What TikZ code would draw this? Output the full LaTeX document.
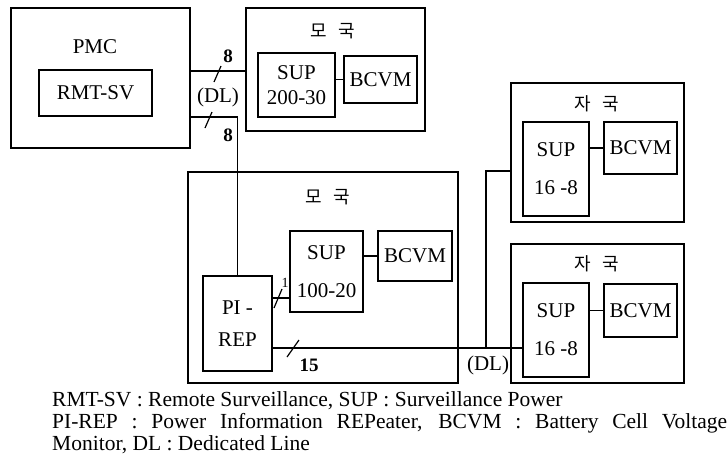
\documentclass[tikz,border=0pt]{standalone}
\usepackage{fontspec}
\setmainfont{Liberation Serif}
\newfontfamily\kofont[WordSpace=2.8]{Noto Sans CJK KR}
\usetikzlibrary{calc}

\begin{document}
\begin{tikzpicture}[
    x=1pt, y=-1pt,
    unit/.style={draw, line width=1.4pt, inner sep=0pt, align=center,
                 font=\fontsize{21}{38}\selectfont},
    wire/.style={draw, line width=1.2pt},
    tick/.style={draw, line width=1.2pt},
    lbl/.style={font=\fontsize{21}{25}\selectfont, inner sep=0pt},
    hangul/.style={font=\kofont\fontsize{18}{20}\selectfont, inner sep=0pt},
    num/.style={font=\bfseries\fontsize{19}{21}\selectfont, inner sep=0pt},
    note/.style={font=\fontsize{21.5}{22}\selectfont, inner sep=0pt, anchor=base west},
  ]
  \useasboundingbox (0,0) rectangle (728,466);

  % ---- PMC
  \node[unit, minimum width=179pt, minimum height=140pt] (pmc) at (100.5,78) {};
  \node[lbl] (pmcname) at (95,47) {PMC};
  \node[unit, minimum width=113pt, minimum height=46pt] (rmt) at (95.5,93) {RMT-SV};

  % ---- upper mother station
  \node[unit, minimum width=179pt, minimum height=123pt] (momA) at (335.5,69.5) {};
  \node[hangul] (momAname) at (332.5,31) {모 국};
  \node[unit, minimum width=77pt, minimum height=64pt,
        font=\fontsize{21}{25}\selectfont] (supA) at (296.5,85) {SUP\\200-30};
  \node[unit, minimum width=73pt, minimum height=47pt] (bcvmA) at (380.5,79.5) {BCVM};
  \draw[wire] (bcvmA.west -| supA.east) -- (bcvmA.west);

  % ---- middle mother station
  \node[unit, minimum width=270pt, minimum height=211pt] (momB) at (323,277.5) {};
  \node[hangul] (momBname) at (328,197) {모 국};
  \node[unit, minimum width=69pt, minimum height=95pt,
        font=\fontsize{21}{32}\selectfont] (rep) at (237.5,323.5) {PI -\\REP};
  \node[unit, minimum width=73pt, minimum height=81pt] (supB) at (326.5,271.5) {SUP\\100-20};
  \node[unit, minimum width=74pt, minimum height=50pt] (bcvmB) at (415,256) {BCVM};
  \draw[wire] (bcvmB.west -| supB.east) -- (bcvmB.west);

  % ---- child stations
  \node[unit, minimum width=173pt, minimum height=139pt] (jaA) at (597.5,152.5) {};
  \node[hangul] (jaAname) at (597,104) {자 국};
  \node[unit, minimum width=66pt, minimum height=94pt] (supC) at (556,169) {SUP\\16 -8};
  \node[unit, minimum width=73pt, minimum height=52pt] (bcvmC) at (640.5,148) {BCVM};
  \draw[wire] (bcvmC.west -| supC.east) -- (bcvmC.west);

  \node[unit, minimum width=173pt, minimum height=139pt] (jaB) at (597.5,313.5) {};
  \node[hangul] (jaBname) at (597,264) {자 국};
  \node[unit, minimum width=66pt, minimum height=94pt] (supD) at (556,330) {SUP\\16 -8};
  \node[unit, minimum width=73pt, minimum height=53pt] (bcvmD) at (640.5,310.5) {BCVM};
  \draw[wire] (bcvmD.west -| supD.east) -- (bcvmD.west);

  % ---- dedicated lines
  \coordinate (dlTop) at ([yshift=7pt]pmc.east);
  \coordinate (dlBot) at ([yshift=-39pt]pmc.east);
  \draw[wire] (dlTop) -- (dlTop -| momA.west);
  \draw[wire] (dlBot) -| (rep.north);
  \node[lbl] (dlA) at (218,97) {(DL)};
  \draw[tick] (214,82) -- (221,66);
  \node[num] (nA) at (228,56) {8};
  \draw[tick] (205,128) -- (212,112);
  \node[num] (nB) at (228,135) {8};

  \coordinate (oneL) at ([yshift=25.5pt]rep.east);
  \draw[wire] (oneL) -- (oneL -| supB.west);
  \draw[tick] (274,308) -- (282,289);
  \node[font=\fontsize{14}{16}\selectfont, inner sep=0pt] (nC) at (285,283) {1};

  \coordinate (dlC) at ([yshift=-24.5pt]rep.east);
  \draw[wire] (dlC) -- (dlC -| supD.west);
  \draw[tick] (287,357) -- (299,340);
  \node[num] (nD) at (309,365) {15};
  \coordinate (tap) at (486,348);
  \draw[wire] (tap) |- ([yshift=-18.5pt]jaA.west);
  \node[lbl] (dlB) at (488,365) {(DL)};

  % ---- key
  \node[note] (keyA) at (52,406) {RMT-SV : Remote Surveillance, SUP : Surveillance Power};
  \node[note] (keyB) at (52,428)
    {\makebox[675pt][s]{PI-REP : Power Information REPeater, BCVM : Battery Cell Voltage}};
  \node[note] (keyC) at (52,450) {Monitor, DL : Dedicated Line};
\end{tikzpicture}
\end{document}
